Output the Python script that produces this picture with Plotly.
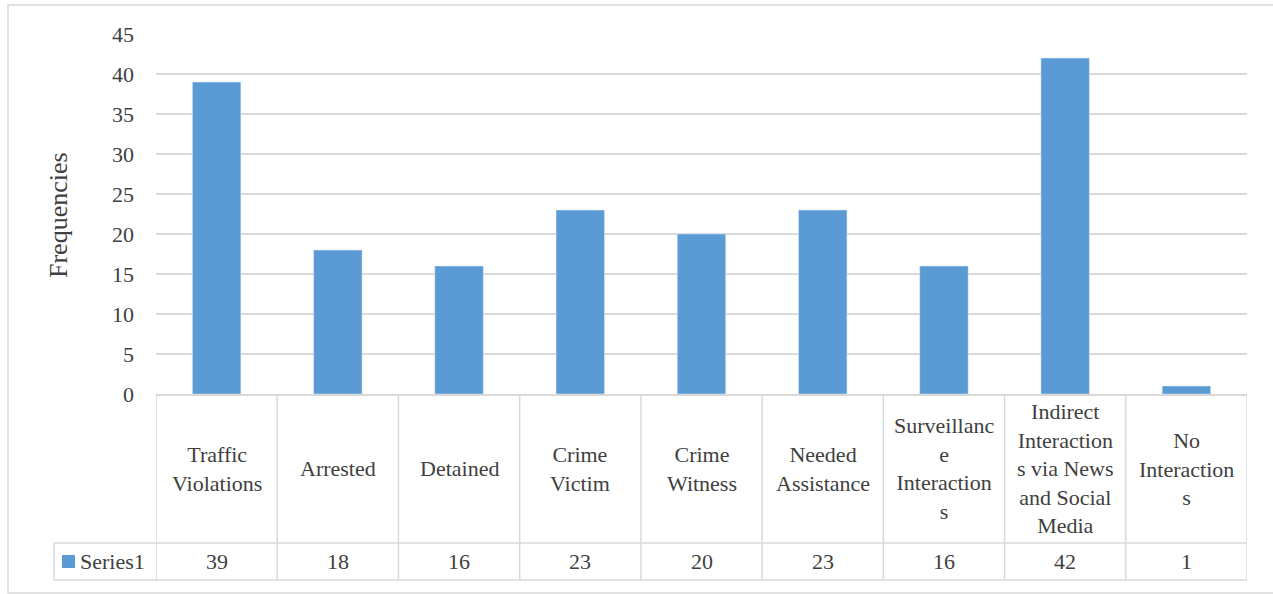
import plotly.graph_objects as go

categories = ["Traffic Violations", "Arrested", "Detained", "Crime Victim", "Crime Witness",
              "Needed Assistance", "Surveillance Interactions",
              "Indirect Interactions via News and Social Media", "No Interactions"]
category_labels = ["Traffic<br>Violations", "Arrested", "Detained", "Crime<br>Victim", "Crime<br>Witness",
                   "Needed<br>Assistance", "Surveillanc<br>e<br>Interaction<br>s",
                   "Indirect<br>Interaction<br>s via News<br>and Social<br>Media", "No<br>Interaction<br>s"]
values = [39, 18, 16, 23, 20, 23, 16, 42, 1]
series_name = "Series1"
y_ticks = [0, 5, 10, 15, 20, 25, 30, 35, 40, 45]

W, H = 1273, 594
L, R, T, B = 156, 1247, 34, 394
FONT = "Liberation Serif, Times New Roman, serif"
TXT = "#404040"
GRID = "#D9D9D9"
BAR = "#5B9BD5"
FS = 22


def px(x):
    return (x - L) / (R - L)


def py(y):
    return (B - y) / (B - T)


fig = go.Figure(go.Bar(x=list(range(len(categories))), y=values, marker_color=BAR,
                       name=series_name, hovertext=categories))

shapes = []
annotations = []
row1_bottom, row2_bottom, left_col = 543, 580, 54
line = dict(color=GRID, width=1.5)
# horizontal table lines
shapes.append(dict(type="line", xref="paper", yref="paper", x0=px(left_col), x1=1,
                   y0=py(row1_bottom), y1=py(row1_bottom), line=line))
shapes.append(dict(type="line", xref="paper", yref="paper", x0=px(left_col), x1=1,
                   y0=py(row2_bottom), y1=py(row2_bottom), line=line))
shapes.append(dict(type="line", xref="paper", yref="paper", x0=px(left_col), x1=px(left_col),
                   y0=py(row1_bottom), y1=py(row2_bottom), line=line))
for i in range(len(categories) + 1):
    shapes.append(dict(type="line", xref="x", yref="paper", x0=i - 0.5, x1=i - 0.5,
                       y0=0, y1=py(row2_bottom), line=line))
# outer border
shapes.append(dict(type="rect", xref="paper", yref="paper", x0=px(8), x1=px(1290),
                   y0=py(593), y1=py(5), line=dict(color=GRID, width=1.5)))
# legend key
shapes.append(dict(type="rect", xref="paper", yref="paper", x0=px(62), x1=px(75),
                   y0=py(568), y1=py(555), fillcolor=BAR, line=dict(width=0)))

for i, (lab, v) in enumerate(zip(category_labels, values)):
    annotations.append(dict(x=i, y=py((B + row1_bottom) / 2), xref="x", yref="paper",
                            text=lab, showarrow=False, yanchor="middle",
                            font=dict(family=FONT, size=FS, color=TXT)))
    annotations.append(dict(x=i, y=py((row1_bottom + row2_bottom) / 2), xref="x", yref="paper",
                            text=str(v), showarrow=False, yanchor="middle",
                            font=dict(family=FONT, size=FS, color=TXT)))
annotations.append(dict(x=px(78), y=py((row1_bottom + row2_bottom) / 2), xref="paper", yref="paper",
                        text=series_name, showarrow=False, xanchor="left", yanchor="middle",
                        font=dict(family=FONT, size=FS, color=TXT)))
annotations.append(dict(x=px(58), y=py(215), xref="paper", yref="paper", text="Frequencies",
                        textangle=-90, showarrow=False, xanchor="center", yanchor="middle",
                        font=dict(family=FONT, size=26, color=TXT)))

fig.update_layout(
    width=W, height=H,
    margin=dict(l=L, r=W - R, t=T, b=H - B),
    paper_bgcolor="white", plot_bgcolor="white",
    bargap=0.6, showlegend=False,
    shapes=shapes, annotations=annotations,
    font=dict(family=FONT, color=TXT),
)
fig.update_xaxes(range=[-0.5, len(categories) - 0.5], showticklabels=False, showgrid=False,
                 zeroline=False, showline=True, linecolor=GRID, linewidth=1.5)
fig.update_yaxes(range=[0, 45], tickvals=y_ticks, showgrid=True, gridcolor=GRID, gridwidth=1.5,
                 zeroline=False, showline=False, ticks="", ticklabelstandoff=21,
                 tickfont=dict(family=FONT, size=FS, color=TXT))

fig.write_html("out.html")
